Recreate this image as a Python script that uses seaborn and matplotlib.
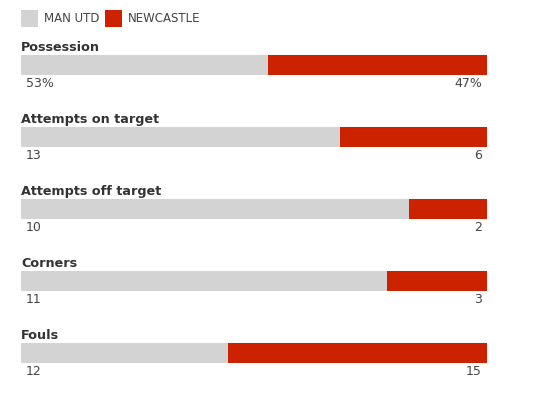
import matplotlib
matplotlib.use("Agg")

import pandas as pd
import matplotlib.pyplot as plt
import seaborn as sns
from matplotlib.patches import Rectangle

# =========================
# DATA
# =========================
stats = ["Possession", "Attempts on target", "Attempts off target", "Corners", "Fouls"]
home_values = [53, 13, 10, 11, 12]
away_values = [47, 6, 2, 3, 15]
home_labels = ["53%", "13", "10", "11", "12"]
away_labels = ["47%", "6", "2", "3", "15"]
teams = ["MAN UTD", "NEWCASTLE"]

GREY = "#d3d3d3"
RED = "#cc2200"
TITLE_COLOR = "#333333"
TEXT_COLOR = "#444444"

df = pd.DataFrame({"stat": stats, "home": home_values, "away": away_values})
df["total"] = df["home"] + df["away"]
df["home_share"] = df["home"] / df["total"]
df["full"] = df["total"] / df["total"]

# =========================
# FIGURE
# =========================
sns.set_theme(style="white")
plt.rcParams["font.family"] = ["DejaVu Sans"]

W, H = 542, 398
fig = plt.figure(figsize=(W / 100, H / 100), dpi=100)
fig.patch.set_facecolor("white")

# axes: bars from x=21 to 487 px, rows 72 px apart starting at y=29 px
ax = fig.add_axes([21 / W, 1 - 389 / H, 466 / W, 360 / H])
bar_w = 20 / 72

sns.barplot(data=df, x="full", y="stat", orient="h", color=RED,
            width=bar_w, saturation=1, linewidth=0, edgecolor="none", ax=ax)
sns.barplot(data=df, x="home_share", y="stat", orient="h", color=GREY,
            width=bar_w, saturation=1, linewidth=0, edgecolor="none", ax=ax)

ax.set_xlim(0, 1)
ax.set_ylim(4.5, -0.5)
ax.axis("off")

px = 1 / 72  # one pixel in data units (y)
for i, name in enumerate(stats):
    top = i - bar_w / 2
    bottom = i + bar_w / 2
    ax.text(0, top - 4 * px, name, ha="left", va="baseline",
            fontsize=9.2, fontweight="bold", color=TITLE_COLOR)
    ax.text(5 / 466, bottom + 12 * px, home_labels[i], ha="left",
            va="baseline", fontsize=9, color=TEXT_COLOR)
    ax.text(1 - 5 / 466, bottom + 12 * px, away_labels[i], ha="right",
            va="baseline", fontsize=9, color=TEXT_COLOR)

# -------- Legend (manual)
for x0, color, label, tx in [(21, GREY, teams[0], 44), (105, RED, teams[1], 128)]:
    fig.add_artist(Rectangle((x0 / W, 1 - 27 / H), 17 / W, 17 / H,
                             transform=fig.transFigure, color=color, lw=0))
    fig.text(tx / W, 1 - 18.5 / H, label, ha="left", va="center",
             fontsize=8.5, color=TEXT_COLOR)

fig.savefig("out.png", dpi=100, facecolor="white")
plt.close(fig)
